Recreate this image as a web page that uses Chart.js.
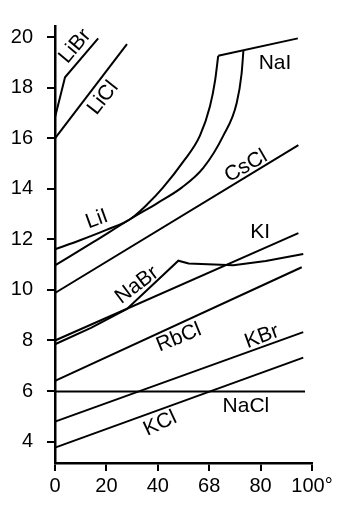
<!DOCTYPE html>
<html>
<head>
<meta charset="utf-8">
<script src="https://cdn.jsdelivr.net/npm/chart.js@4"></script>
<style>
  body { margin:0; background:#fff; }
</style>
</head>
<body>
<canvas id="chart" width="340" height="509"></canvas>
<script>
// axis ticks
const xTicks = [0, 20, 40, 60, 80, 100];
const xTickLabels = ["0", "20", "40", "68", "80", "100°"];
const yTicks = [4, 6, 8, 10, 12, 14, 16, 18, 20];

// series as [temperature, value]
const LiBr = [[0, 19.55], [0, 16.83], [3.9, 18.42], [16.8, 19.96]];
const LiCl = [[0, 16.0], [28, 19.73]];
const LiI = [[0, 11.61], [10, 11.98], [20, 12.38], [29.2, 12.8], [36, 13.4], [42, 14.05],
             [49.9, 15.08], [56.4, 16.11], [60.3, 17.27], [62.3, 18.3], [63.5, 19.27]];
const NaI = [[0, 10.97], [15, 11.9], [29.2, 12.8], [40, 13.45], [49.3, 14.05], [57.7, 14.83],
             [65.5, 16.11], [70.7, 17.4], [72.6, 18.56], [73.3, 19.46]];
const NaItop = [[63.5, 19.27], [94.5, 19.96]];
const CsCl = [[0, 9.88], [94.7, 15.73]];
const KI = [[0, 8.0], [94.7, 12.25]];
const NaBr = [[0, 7.85], [14, 8.5], [28, 9.25], [48, 11.16], [52, 11.05], [69.4, 10.98],
              [82, 11.15], [96.6, 11.42]];
const RbCl = [[0, 6.4], [96, 10.9]];
const KBr = [[0, 4.79], [96.6, 8.33]];
const NaCl = [[0, 5.98], [97.3, 5.98]];
const KCl = [[0, 3.76], [96.6, 7.32]];

// curve names, placed in data units: [text, x, y, angle]
const seriesLabels = [
  ["LiBr", 7.8, 19.65, -50],
  ["LiCl", 18.7, 17.6, -52],
  ["NaI", 85.6, 18.96, 0],
  ["CsCl", 74.3, 14.9, -30],
  ["LiI", 16.3, 12.8, -20],
  ["KI", 79.8, 12.28, 0],
  ["NaBr", 31.9, 10.19, -37],
  ["RbCl", 48.2, 8.11, -22],
  ["KBr", 80.5, 8.15, -20],
  ["NaCl", 74.3, 5.41, 0],
  ["KCl", 40.9, 4.71, -25]
];

const FONT = "'Liberation Sans', Arial, sans-serif";

function line(pts, curved){
  return {
    data: pts.map(p => ({x: p[0], y: p[1]})),
    borderColor: "#000",
    borderWidth: 2,
    pointRadius: 0,
    fill: false,
    clip: false,
    tension: 0,
    cubicInterpolationMode: curved ? "monotone" : "default"
  };
}

const labelPlugin = {
  id: "seriesLabels",
  afterDatasetsDraw(chart){
    const ctx = chart.ctx;
    const xs = chart.scales.x, ys = chart.scales.y;
    ctx.save();
    ctx.fillStyle = "#000";
    ctx.font = "21px " + FONT;
    ctx.textAlign = "center";
    ctx.textBaseline = "middle";
    seriesLabels.forEach(l => {
      ctx.save();
      ctx.translate(xs.getPixelForValue(l[1]), ys.getPixelForValue(l[2]));
      ctx.rotate(l[3] * Math.PI / 180);
      ctx.fillText(l[0], 0, 0);
      ctx.restore();
    });
    ctx.restore();
  }
};

new Chart(document.getElementById("chart"), {
  type: "line",
  data: {
    datasets: [
      line(LiBr), line(LiCl), line(LiI, true), line(NaI, true), line(NaItop),
      line(CsCl), line(KI), line(NaBr), line(RbCl), line(KBr), line(NaCl), line(KCl)
    ]
  },
  options: {
    responsive: false,
    animation: false,
    layout: { padding: { top: 14, right: 28, left: 0, bottom: 0 } },
    plugins: { legend: { display: false }, tooltip: { enabled: false } },
    scales: {
      x: {
        type: "linear",
        min: 0, max: 100,
        afterBuildTicks: s => { s.ticks = xTicks.map(v => ({value: v})); },
        afterFit: s => { s.height = 46; },
        ticks: {
          color: "#000",
          font: { family: FONT, size: 20 },
          padding: 3,
          maxRotation: 0,
          callback: (v) => xTickLabels[xTicks.indexOf(v)]
        },
        grid: { drawOnChartArea: false, drawTicks: true, tickLength: 8, color: "#000", lineWidth: 2 },
        border: { display: true, color: "#000", width: 2.5 }
      },
      y: {
        type: "linear",
        min: 3.15, max: 20.45,
        afterBuildTicks: s => { s.ticks = yTicks.map(v => ({value: v})); },
        afterFit: s => { s.width = 55; },
        ticks: {
          color: "#000",
          font: { family: FONT, size: 20 },
          padding: 14
        },
        grid: { drawOnChartArea: false, drawTicks: true, tickLength: 8, color: "#000", lineWidth: 2 },
        border: { display: true, color: "#000", width: 2.5 }
      }
    }
  },
  plugins: [labelPlugin]
});
</script>
</body>
</html>
